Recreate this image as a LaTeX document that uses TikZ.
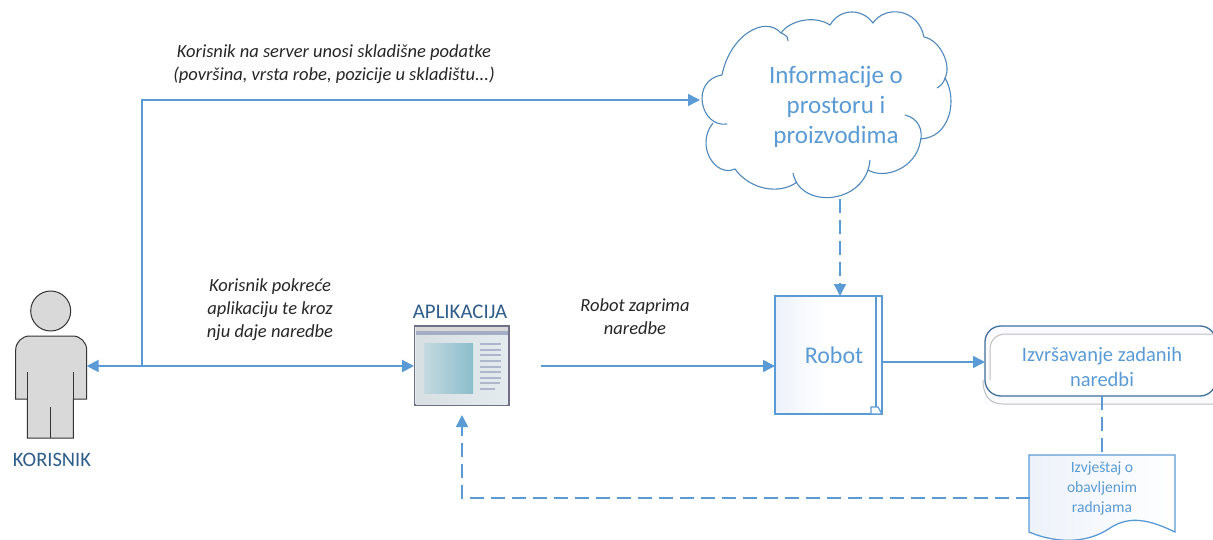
\documentclass[tikz,border=0pt]{standalone}
\usepackage{fontspec}
\setmainfont{Carlito}
\usetikzlibrary{arrows.meta}
\definecolor{plava}{HTML}{5B9BD5}
\definecolor{oblakplava}{HTML}{4F88BC}
\definecolor{tamnoplava}{HTML}{41719C}
\definecolor{naslov}{HTML}{2F5D8A}
\definecolor{svijetla}{HTML}{EDF2FA}
\definecolor{okvir}{HTML}{6F6F85}
\definecolor{prozor}{HTML}{E4EBEE}
\definecolor{traka}{HTML}{A4ACC6}
\definecolor{redak}{HTML}{AEB6CC}
\tikzset{
  veza/.style={plava,line width=1.5pt},
  isprekidana/.style={veza,dash pattern=on 14pt off 7pt},
  vrh/.style={-{Triangle[length=12pt,width=12pt]}},
  oblakrub/.style={oblakplava,line width=1.1pt},
  oznaka/.style={align=center,font=\fontsize{18.5}{23}\selectfont\itshape,text=black!85,inner sep=0pt},
  tekst/.style={align=center,text=plava,inner sep=0pt},
  prazan/.style={inner sep=0pt,outer sep=0pt},
}
\begin{document}
\begin{tikzpicture}[x=1pt,y=-1pt]
\useasboundingbox (0,0) rectangle (1213,540);

\fill [white] (0,0) rectangle (1213,540);

\draw [oblakrub] (722,75) .. controls (730,35) and (765,15) .. (781,33) .. controls (788,36) and (788,38) .. (788,41);
\draw [oblakrub] (781,33) .. controls (790,20) and (815,15) .. (830,25) .. controls (840,8) and (862,8) .. (873,23) .. controls (885,5) and (918,8) .. (924,37) .. controls (940,40) and (952,65) .. (945,78) .. controls (944,82) and (941,86) .. (937,88);
\draw [oblakrub] (945,78) .. controls (958,100) and (950,138) .. (920,139);
\draw [oblakrub] (905,115) .. controls (918,118) and (924,130) .. (920,143) .. controls (915,168) and (885,180) .. (868,170);
\draw [oblakrub] (870,160) .. controls (866,205) and (800,210) .. (793,173);
\draw [oblakrub] (797,182) .. controls (780,195) and (750,190) .. (735,169) .. controls (715,178) and (695,145) .. (713,123);
\draw [oblakrub] (727,124) .. controls (700,128) and (690,80) .. (722,75);

\node [prazan,minimum width=250pt,minimum height=190pt] (oblak) at (825,100) {};
\node [tekst,font=\fontsize{25}{30}\selectfont] (oblaktekst) at (836,107) {Informacije o\\prostoru i\\proizvodima};

\node [prazan,minimum width=71pt,minimum height=147pt] (korisnik) at (51.2,366) {};
\draw [fill=black!15,draw=black!80,line width=1pt,rounded corners=14pt] (15.7,399) [sharp corners] -- (15.7,370) [rounded corners=14pt] -- (15.7,336) -- (86.7,336) [sharp corners] -- (86.7,370) -- (86.7,399) -- (73.3,399) -- (73.3,438) -- (27.3,438) -- (27.3,399) -- cycle;
\draw [black!80,line width=1pt] (27.3,372) -- (27.3,399) (73.3,372) -- (73.3,399) (50.7,407) -- (50.7,438);
\draw [fill=black!15,draw=black!80,line width=1pt] (50.7,311) circle (20);
\node [text=naslov,font=\fontsize{20.5}{24}\selectfont,inner sep=0pt] (korisniklabel) at (52,460) {KORISNIK};

\node [prazan,minimum width=95pt,minimum height=80pt] (aplikacija) at (461.5,366) {};
\draw [fill=prozor,draw=okvir,line width=1.5pt] (414.5,326) rectangle (509,405);
\fill [traka] (415.5,331) rectangle (508,335);
\fill [black!15] (415.5,327) rectangle (508,331);
\shade [shading angle=120,left color=black!5!prozor,right color=prozor] (416,335) rectangle (507.5,404);
\shade [shading angle=110,left color={rgb,255:red,196;green,217;blue,224},right color={rgb,255:red,139;green,190;blue,204}] (424,343) rectangle (473,393);
\foreach \y/\w in {343/21,349/21,354/21,360/21,366/21,371/21,377/21,382/20,388/15}
  \fill [redak] (480,\y) rectangle ++(\w,2.2);
\node [text=naslov,font=\fontsize{20.8}{24}\selectfont,inner sep=0pt] (aplikacijalabel) at (460,312) {APLIKACIJA};

\node [prazan,minimum width=107pt,minimum height=118pt] (robot) at (828.5,355) {};
\shade [shading angle=60,left color=svijetla,right color=white,middle color=white] (775.5,296.5) rectangle (875.5,413.5);
\draw [plava,line width=1.5pt] (775,296) rectangle (882,414) (876,296) -- (876,414);
\draw [plava,fill=white,line width=1.2pt] (871,414) -- (871,407) -- (878,407) -- (882,414) -- cycle;
\node [tekst,font=\fontsize{24}{28}\selectfont] (robottekst) at (834,355) {Robot};

\fill [blue!2] (984,326) rectangle (1213,404);
\fill [white] (990,336) rectangle (1213,395);
\draw [black!25,line width=1pt] (983,380) .. controls (983,396) and (990,404) .. (1003,404) -- (1213,404);
\draw [black!25,line width=1pt] (990,380) -- (990,350) .. controls (990,340) and (996,334) .. (1006,334) -- (1213,334);
\node [prazan,draw=tamnoplava,line width=1.3pt,rounded corners=16pt,minimum width=231pt,minimum height=70pt] (izvrsavanje) at (1100.5,361) {};
\node [tekst,font=\fontsize{20.5}{25}\selectfont] (izvrsavanjetekst) at (1102,367) {Izvršavanje zadanih\\naredbi};

\coordinate (dokument) at (1102,455);
\shade [shading angle=135,left color=svijetla,right color=white] (1029,455) -- (1175,455) -- (1175,532) .. controls (1150,520) and (1130,515) .. (1110,528) .. controls (1090,542) and (1060,545) .. (1029,532) -- cycle;
\draw [plava,line width=1.3pt] (1029,455) -- (1175,455) -- (1175,532) .. controls (1150,520) and (1130,515) .. (1110,528) .. controls (1090,542) and (1060,545) .. (1029,532) -- cycle;
\coordinate (dokumentlijevo) at (1030,498);
\node [tekst,font=\fontsize{15.6}{20}\selectfont] (dokumenttekst) at (1102,488) {Izvještaj o\\obavljenim\\radnjama};

\draw [veza,line width=2pt,{Triangle[length=12pt,width=12pt]}-{Triangle[length=12pt,width=12pt]}] (korisnik.east) -- (aplikacija.west);
\coordinate (racvanje) at (142,366);
\coordinate (oblaklijevo) at (700,100);
\draw [veza,vrh] (racvanje) -- (racvanje |- oblaklijevo) -- (oblaklijevo);
\draw [veza,vrh] ([xshift=32pt]aplikacija.east) -- (robot.west |- aplikacija.east);
\draw [isprekidana,vrh] (840,199) -- (840,296);
\draw [veza,vrh] (robot.east |- 0,362) -- (izvrsavanje.west |- 0,362);
\draw [isprekidana] (izvrsavanje.south -| dokument) -- (dokument);
\draw [isprekidana,vrh] (dokumentlijevo) -- (462,498) -- (462,415);

\node [oznaka] (oznaka1) at (334,64.5) {Korisnik na server unosi skladišne podatke\\(površina, vrsta robe, pozicije u skladištu...)};
\node [oznaka] (oznaka2) at (270,310) {Korisnik pokreće\\aplikaciju te kroz\\nju daje naredbe};
\node [oznaka] (oznaka3) at (635,316.5) {Robot zaprima\\naredbe};
\end{tikzpicture}
\end{document}
